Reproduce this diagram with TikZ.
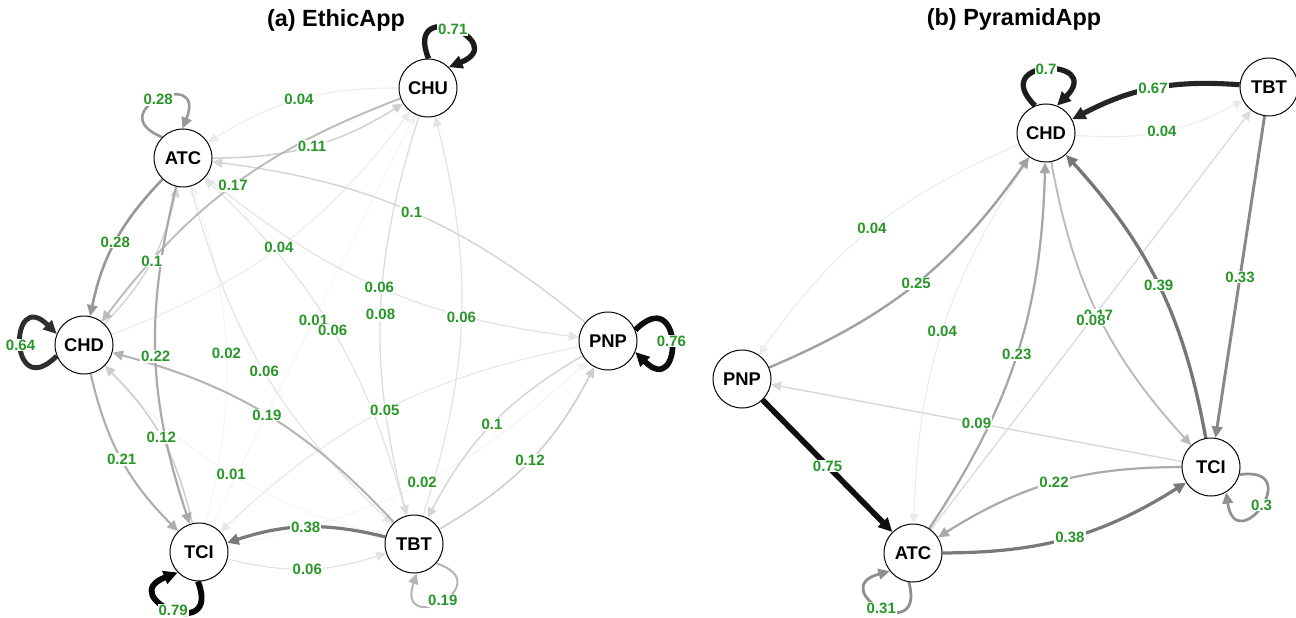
\documentclass[tikz,border=0pt]{standalone}
\usepackage{fontspec}
\setmainfont{Liberation Sans}
\usetikzlibrary{arrows.meta}
\pgfdeclarelayer{edgelayer}
\pgfsetlayers{edgelayer,main}
\definecolor{labgreen}{RGB}{40,150,40}
\tikzset{
  wt/.code={%
    \pgfmathsetmacro\eshade{min(100,max(5,120*(#1)^0.85))}%
    \pgfmathsetmacro\ewidth{0.4+3.2*(#1)}%
    \edef\wtnext{\noexpand\pgfkeysalso{draw=black!\eshade,line width=\ewidth pt}}%
    \wtnext},
  arr/.style={-{Triangle[length=4.4pt 0.9,width=4pt 0.9]}},
  stnode/.style={circle,draw=black,line width=0.5pt,fill=white,minimum size=29pt,
    inner sep=0pt,font=\bfseries\fontsize{9.2}{10}\selectfont},
  lbl/.style={font=\bfseries\fontsize{7.5}{8}\selectfont,text=labgreen,fill=white,inner sep=0.5pt},
  ttl/.style={font=\bfseries\fontsize{11.7}{13}\selectfont},
}
% weighted transition between two states, label at the middle of the curve
\newcommand\netedge[5]{%
  \begin{pgfonlayer}{edgelayer}
    \draw[wt=#3,arr] (#1) to[bend right=#4] coordinate[pos=0.5] (mid-#1-#2) (#2);
  \end{pgfonlayer}
  \node[lbl] (lab-#1-#2) at (mid-#1-#2) {#5};
}
% self transition drawn as a loop pointing in direction #3
\newcommand\netloop[4]{%
  \pgfmathtruncatemacro\la{#3+22}%
  \pgfmathtruncatemacro\lb{#3-22}%
  \pgfmathtruncatemacro\ca{#3+45}%
  \pgfmathtruncatemacro\cb{#3-45}%
  \begin{pgfonlayer}{edgelayer}
    \draw[wt=#2,arr] (#1.\la) .. controls +(\ca:34pt) and +(\cb:34pt) .. (#1.\lb)
      coordinate[pos=0.5] (mid-#1);
  \end{pgfonlayer}
  \node[lbl] (lab-#1) at (mid-#1) {#4};
}
\begin{document}
\begin{tikzpicture}[x=0.5pt,y=0.5pt]
\useasboundingbox (0,0) rectangle (1296,617);

% ---------------- (a) EthicApp ----------------
\node[ttl] (title-a) at (336,597) {(a) EthicApp};
\node[stnode] (a-chu) at (428,529) {CHU};
\node[stnode] (a-atc) at (183,459) {ATC};
\node[stnode] (a-chd) at (84,272) {CHD};
\node[stnode] (a-pnp) at (608,276) {PNP};
\node[stnode] (a-tci) at (199,65) {TCI};
\node[stnode] (a-tbt) at (414,73) {TBT};

\netedge{a-chd}{a-tbt}{0.01}{16}{0.01}
\netedge{a-tci}{a-chu}{0.01}{0}{0.01}
\netedge{a-tci}{a-atc}{0.02}{16}{0.02}
\netedge{a-tci}{a-pnp}{0.02}{16}{0.02}
\netedge{a-chu}{a-atc}{0.04}{16}{0.04}
\netedge{a-chd}{a-chu}{0.04}{16}{0.04}
\netedge{a-pnp}{a-tci}{0.05}{16}{0.05}
\netedge{a-atc}{a-pnp}{0.06}{16}{0.06}
\netedge{a-atc}{a-tbt}{0.06}{16}{0.06}
\netedge{a-tbt}{a-atc}{0.06}{16}{0.06}
\netedge{a-tbt}{a-chu}{0.06}{16}{0.06}
\netedge{a-tci}{a-tbt}{0.06}{16}{0.06}
\netedge{a-chu}{a-tbt}{0.08}{16}{0.08}
\netedge{a-chd}{a-atc}{0.1}{16}{0.1}
\netedge{a-pnp}{a-atc}{0.1}{16}{0.1}
\netedge{a-pnp}{a-tbt}{0.1}{16}{0.1}
\netedge{a-atc}{a-chu}{0.11}{16}{0.11}
\netedge{a-tci}{a-chd}{0.12}{16}{0.12}
\netedge{a-tbt}{a-pnp}{0.12}{16}{0.12}
\netedge{a-chu}{a-chd}{0.17}{16}{0.17}
\netedge{a-tbt}{a-chd}{0.19}{16}{0.19}
\netedge{a-chd}{a-tci}{0.21}{16}{0.21}
\netedge{a-atc}{a-tci}{0.22}{16}{0.22}
\netedge{a-atc}{a-chd}{0.28}{16}{0.28}
\netedge{a-tbt}{a-tci}{0.38}{16}{0.38}

\netloop{a-tbt}{0.19}{297}{0.19}
\netloop{a-atc}{0.28}{113}{0.28}
\netloop{a-chd}{0.64}{180}{0.64}
\netloop{a-chu}{0.71}{67}{0.71}
\netloop{a-pnp}{0.76}{0}{0.76}
\netloop{a-tci}{0.79}{246}{0.79}

% ---------------- (b) PyramidApp ----------------
\node[ttl] (title-b) at (1014,598) {(b) PyramidApp};
\node[stnode] (b-tbt) at (1269,530) {TBT};
\node[stnode] (b-chd) at (1046,484) {CHD};
\node[stnode] (b-pnp) at (742,238) {PNP};
\node[stnode] (b-tci) at (1211,150) {TCI};
\node[stnode] (b-atc) at (913,64) {ATC};

\netedge{b-chd}{b-tbt}{0.04}{16}{0.04}
\netedge{b-chd}{b-pnp}{0.04}{16}{0.04}
\netedge{b-chd}{b-atc}{0.04}{16}{0.04}
\netedge{b-tci}{b-pnp}{0.09}{0}{0.09}
\netedge{b-chd}{b-tci}{0.17}{16}{0.17}
\netedge{b-atc}{b-tbt}{0.08}{0}{0.08}
\netedge{b-tci}{b-atc}{0.22}{16}{0.22}
\netedge{b-atc}{b-chd}{0.23}{16}{0.23}
\netedge{b-pnp}{b-chd}{0.25}{16}{0.25}
\netedge{b-tbt}{b-tci}{0.33}{0}{0.33}
\netedge{b-atc}{b-tci}{0.38}{16}{0.38}
\netedge{b-tci}{b-chd}{0.39}{16}{0.39}
\netedge{b-tbt}{b-chd}{0.67}{16}{0.67}
\netedge{b-pnp}{b-atc}{0.75}{0}{0.75}

\netloop{b-tci}{0.3}{-37}{0.3}
\netloop{b-atc}{0.31}{240}{0.31}
\netloop{b-chd}{0.7}{90}{0.7}
\end{tikzpicture}
\end{document}
